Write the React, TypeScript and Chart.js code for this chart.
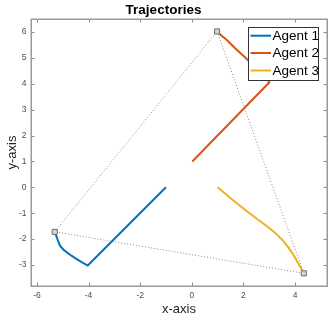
import React, { useEffect, useRef } from "react";
import { Chart, registerables } from "chart.js";

Chart.register(...registerables);

const agentLabels = ["Agent 1", "Agent 2", "Agent 3"];
const agentColors = ["#0072BD", "#D95319", "#EDB120"];

const agent1X = [-5.31, -5.28, -5.23, -5.17, -5.1, -4.98, -4.84, -4.66, -4.46, -4.25, -4.03, -1.0];
const agent1Y = [-1.72, -1.8, -1.93, -2.1, -2.26, -2.4, -2.51, -2.64, -2.77, -2.9, -3.02, 0.0];

const agent2X = [0.98, 1.1, 1.36, 1.68, 2.0, 2.23, 2.48, 2.72, 2.92, 3.0, 0.02];
const agent2Y = [6.02, 5.9, 5.69, 5.37, 5.08, 4.86, 4.63, 4.42, 4.22, 4.05, 1.0];

const agent3X = [4.34, 4.3, 4.25, 4.12, 3.95, 3.75, 3.5, 3.2, 2.9, 2.6, 2.2, 1.6, 1.0];
const agent3Y = [-3.32, -3.24, -3.15, -2.92, -2.62, -2.33, -2.02, -1.73, -1.49, -1.27, -0.97, -0.5, 0.0];

const startX = [-5.31, 0.98, 4.34];
const startY = [-1.72, 6.02, -3.32];

const xTicks = [-6, -4, -2, 0, 2, 4];
const yTicks = [-3, -2, -1, 0, 1, 2, 3, 4, 5, 6];
const xRange = [-6.23, 5.24];
const yRange = [-3.81, 6.5];

const FONT = "'Liberation Sans', Arial, Helvetica, sans-serif";

const toPts = (xs: number[], ys: number[]) => xs.map((x, i) => ({ x, y: ys[i] }));

const boxPlugin = {
  id: "boxTicks",
  afterDatasetsDraw(chart: any) {
    const { ctx, chartArea, scales } = chart;
    const { left, right, top, bottom } = chartArea;
    const xs = scales.x;
    const ys = scales.y;
    ctx.save();
    ctx.strokeStyle = "#8c8c8c";
    ctx.lineWidth = 1;
    const tl = 3.5;
    ctx.beginPath();
    xTicks.forEach((v) => {
      const px = Math.round(xs.getPixelForValue(v)) + 0.5;
      ctx.moveTo(px, bottom);
      ctx.lineTo(px, bottom - tl);
      ctx.moveTo(px, top);
      ctx.lineTo(px, top + tl);
    });
    yTicks.forEach((v) => {
      const py = Math.round(ys.getPixelForValue(v)) + 0.5;
      ctx.moveTo(left, py);
      ctx.lineTo(left + tl, py);
      ctx.moveTo(right, py);
      ctx.lineTo(right - tl, py);
    });
    ctx.stroke();
    ctx.strokeStyle = "#9a9a9a";
    ctx.lineWidth = 1.5;
    ctx.strokeRect(Math.round(left) + 0.25, Math.round(top) + 0.25, Math.round(right - left), Math.round(bottom - top));
    ctx.restore();
  },
  afterDraw(chart: any) {
    const { ctx } = chart;
    const bx = 248.5, by = 27.5, bw = 70, bh = 53;
    ctx.save();
    ctx.fillStyle = "#ffffff";
    ctx.fillRect(bx, by, bw, bh);
    ctx.strokeStyle = "#333333";
    ctx.lineWidth = 1;
    ctx.strokeRect(bx, by, bw, bh);
    const rows = [35.7, 53, 70.5];
    ctx.font = `13.5px ${FONT}`;
    ctx.textBaseline = "middle";
    ctx.textAlign = "left";
    agentLabels.forEach((lab, i) => {
      ctx.strokeStyle = agentColors[i];
      ctx.lineWidth = 2;
      ctx.beginPath();
      ctx.moveTo(250.5, rows[i]);
      ctx.lineTo(271, rows[i]);
      ctx.stroke();
      ctx.fillStyle = "#000000";
      ctx.fillText(lab, 272.5, rows[i] + 0.5);
    });
    ctx.restore();
  },
};

export default function App() {
  const ref = useRef<HTMLCanvasElement | null>(null);
  useEffect(() => {
    if (!ref.current) return;
    const triangle = toPts([...startX, startX[0]], [...startY, startY[0]]);
    const chart = new Chart(ref.current, {
      type: "scatter",
      data: {
        datasets: [
          {
            label: "starts",
            data: toPts(startX, startY),
            showLine: false,
            pointStyle: "rect",
            pointRadius: 3.6,
            pointBackgroundColor: "#d4d4d4",
            pointBorderColor: "#6e6e6e",
            pointBorderWidth: 1,
            order: 0,
          } as any,
          {
            label: agentLabels[0],
            data: toPts(agent1X, agent1Y),
            showLine: true,
            borderColor: agentColors[0],
            borderWidth: 2,
            pointRadius: 0,
            tension: 0,
            order: 1,
          },
          {
            label: agentLabels[1],
            data: toPts(agent2X, agent2Y),
            showLine: true,
            borderColor: agentColors[1],
            borderWidth: 2,
            pointRadius: 0,
            tension: 0,
            order: 1,
          },
          {
            label: agentLabels[2],
            data: toPts(agent3X, agent3Y),
            showLine: true,
            borderColor: agentColors[2],
            borderWidth: 2,
            pointRadius: 0,
            tension: 0,
            order: 1,
          },
          {
            label: "links",
            data: triangle,
            showLine: true,
            borderColor: "#8a8a8a",
            borderWidth: 1,
            borderDash: [1, 2],
            pointRadius: 0,
            tension: 0,
            order: 2,
          },
        ],
      },
      options: {
        animation: false,
        responsive: false,
        devicePixelRatio: 1,
        layout: { padding: { top: 0, right: 5, left: 0, bottom: 0 } },
        plugins: {
          legend: { display: false },
          tooltip: { enabled: false },
          title: {
            display: true,
            text: "Trajectories",
            color: "#000000",
            font: { family: FONT, size: 13.5, weight: "bold", lineHeight: 1 },
            padding: { top: 3.5, bottom: 2 },
          },
        },
        scales: {
          x: {
            type: "linear",
            min: xRange[0],
            max: xRange[1],
            afterBuildTicks: (s: any) => {
              s.ticks = xTicks.map((v) => ({ value: v }));
            },
            afterFit: (s: any) => {
              s.height = 30;
            },
            grid: { display: false, drawTicks: false },
            border: { display: false },
            ticks: {
              color: "#4d4d4d",
              font: { family: FONT, size: 8.5 },
              padding: 5,
              maxRotation: 0,
              autoSkip: false,
            },
            title: {
              display: true,
              text: "x-axis",
              color: "#262626",
              font: { family: FONT, size: 13, lineHeight: 1 },
              padding: { top: 0, bottom: 0 },
            },
          },
          y: {
            type: "linear",
            min: yRange[0],
            max: yRange[1],
            afterBuildTicks: (s: any) => {
              s.ticks = yTicks.map((v) => ({ value: v }));
            },
            afterFit: (s: any) => {
              s.width = 31;
            },
            grid: { display: false, drawTicks: false },
            border: { display: false },
            ticks: {
              color: "#4d4d4d",
              font: { family: FONT, size: 8.5 },
              padding: 4.5,
              autoSkip: false,
            },
            title: {
              display: true,
              text: "y-axis",
              color: "#262626",
              font: { family: FONT, size: 13, lineHeight: 1 },
              padding: { top: 6, bottom: 0 },
            },
          },
        },
      },
      plugins: [boxPlugin],
    });
    return () => chart.destroy();
  }, []);
  return (
    <div style={{ position: "fixed", left: 0, top: 0, width: 332, height: 316, background: "#ffffff" }}>
      <canvas ref={ref} width={332} height={316} style={{ display: "block" }} />
    </div>
  );
}
